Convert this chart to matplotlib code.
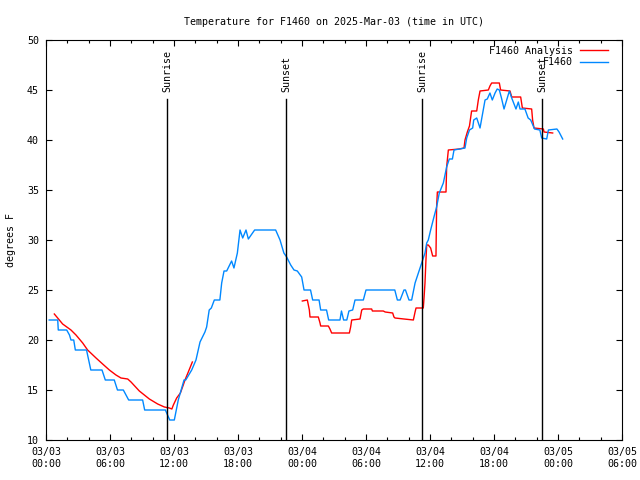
import numpy as np
import pandas as pd
import matplotlib
matplotlib.use("Agg")
import matplotlib.pyplot as plt
import matplotlib.dates as mdates

plt.rcParams['font.family'] = ['DejaVu Sans Mono']

inicio = pd.Timestamp("2025-03-03 00:00")

# observed station temperature (hours after 03/03 00:00 UTC, degrees F)
obs_horas = [0.3, 1.1, 1.15, 1.94, 2.2, 2.34, 2.6, 2.75, 3.8, 4.0, 4.2, 5.25, 5.4, 5.56, 6.4, 6.7,
             7.25, 7.5, 7.75, 9.06, 9.25, 11.19, 11.6, 12.03, 12.4, 12.94, 13.1, 13.66, 14.06, 14.44,
             14.9, 15.06, 15.3, 15.5, 15.78, 16.3, 16.47, 16.69, 16.94, 17.4, 17.62, 17.94, 18.19,
             18.44, 18.75, 18.97, 19.56, 21.53, 21.94, 22.3, 22.56, 22.94, 23.25, 23.56, 23.97,
             24.19, 24.8, 25.0, 25.6, 25.75, 26.3, 26.5, 27.56, 27.7, 27.9, 28.2, 28.4, 28.75,
             28.97, 29.75, 30.0, 32.7, 32.94, 33.2, 33.56, 33.7, 34.03, 34.28, 34.6, 35.0, 35.3,
             35.53, 35.69, 35.84, 36.06, 36.37, 36.62, 36.87, 37.25, 37.56, 37.81, 38.1, 38.25,
             39.28, 39.44, 39.7, 40.0, 40.1, 40.38, 40.69, 40.94, 41.16, 41.37, 41.62, 41.84,
             42.1, 42.3, 42.5, 42.7, 42.94, 43.19, 43.44, 43.66, 44.06, 44.28, 44.44, 44.9, 45.2,
             45.44, 45.75, 45.8, 46.3, 46.47, 46.94, 47.1, 47.9, 48.1, 48.44]
obs_temp = [22, 22, 21, 21, 20.5, 20, 20, 19, 19, 18, 17, 17, 16.5, 16, 16, 15,
            15, 14.5, 14, 14, 13, 13, 12, 12, 14, 16, 16, 17, 18, 19.8,
            20.8, 21.3, 23, 23.2, 24, 24, 25.7, 26.9, 26.9, 27.9, 27.2, 28.7, 31,
            30.2, 31, 30.1, 31, 31, 30, 28.7, 28.3, 27.5, 27, 26.9, 26.3,
            25, 25, 24, 24, 23, 23, 22, 22, 22.9, 22, 22, 22.9, 23,
            24, 24, 25, 25, 24, 24, 25, 25, 24, 24, 25.7, 27, 28,
            28.7, 29.7, 30, 31, 32.3, 33.3, 34.7, 35.7, 37.3, 38.1, 38.1, 39,
            39.2, 40.2, 41, 41.2, 42, 42.2, 41.2, 42.7, 44, 44.1, 44.7, 44,
            44.7, 45.1, 45, 44.2, 43.1, 44, 44.9, 44.2, 43.1, 43.8, 43.1, 43.1, 42.2,
            42, 41.2, 41.1, 41, 40.2, 40.1, 41, 41.1, 40.8, 40.1]

# analysis temperature (two pieces, nan = gap)
ana_horas = [0.78, 1.25, 1.56, 2.34, 2.81, 3.44, 3.9, 4.69, 5.31, 5.94, 6.56, 7.03, 7.66, 7.97,
             8.75, 9.69, 10.47, 11.1, 11.56, 11.8, 11.94, 12.25, 12.6, 12.87, 13.03, 13.34, 13.72,
             18.0,
             24.03, 24.5, 24.69, 24.75, 25.53, 25.69, 25.75, 26.47, 26.62, 26.78, 28.44, 28.56,
             28.66, 29.44, 29.6, 29.75, 30.53, 30.6, 31.62, 31.8, 32.5, 32.62, 32.72, 33.56,
             34.44, 34.6, 34.69, 35.37, 35.44, 35.53, 35.62, 35.69, 35.84, 36.06, 36.25, 36.56,
             36.62, 36.69, 37.5, 37.56, 37.72, 38.75, 39.19, 39.28, 39.5, 39.7, 39.9, 40.38,
             40.53, 40.69, 41.47, 41.62, 41.78, 42.5, 42.62, 43.5, 43.66, 44.5, 44.66, 45.53,
             45.62, 45.75, 46.63, 46.69, 47.5]
ana_temp = [22.6, 22, 21.6, 21, 20.5, 19.7, 19, 18.2, 17.6, 17, 16.5, 16.2, 16.1, 15.8,
            14.9, 14.1, 13.6, 13.3, 13.2, 13.1, 13.5, 14.2, 14.7, 15.5, 16, 16.8, 17.8,
            np.nan,
            23.9, 24, 23, 22.3, 22.3, 21.7, 21.4, 21.4, 21.1, 20.7, 20.7, 21.3,
            22, 22.1, 23, 23.1, 23.1, 22.9, 22.9, 22.8, 22.7, 22.3, 22.2, 22.1,
            22, 22.8, 23.2, 23.2, 24.2, 25.7, 28, 29.5, 29.5, 29.2, 28.4, 28.4,
            33.3, 34.8, 34.8, 37.3, 39, 39.1, 39.2, 40, 40.8, 41.4, 42.9, 42.9,
            44, 44.9, 45, 45.4, 45.7, 45.7, 45, 44.9, 44.3, 44.3, 43.2, 43.1,
            42, 41.2, 41.1, 40.8, 40.7]

sol_horas = [11.34, 22.5, 35.25, 46.5]
sol_nombres = ["Sunrise", "Sunset", "Sunrise", "Sunset"]

def Tiempos(horas):
    return inicio + pd.to_timedelta(horas, unit="h")

fig = plt.figure(figsize=(6.4, 4.8), dpi=100)
ax = fig.add_axes([46/640, 40/480, 576/640, 400/480])

ax.plot(Tiempos(ana_horas), ana_temp, color='#ff0000', lw=1, label='F1460 Analysis')
ax.plot(Tiempos(obs_horas), obs_temp, color='#0088ff', lw=1, label='F1460')

for h, nombre in zip(sol_horas, sol_nombres):
    t = Tiempos([h])[0]
    ax.plot([t, t], [10, 44.1], color='black', lw=1)
    ax.text(t, 44.75, nombre, rotation=90, ha='center', va='bottom', fontsize=7.2)

ax.set_xlim(inicio, inicio + pd.Timedelta(hours=54))
ax.set_ylim(10, 50)
ax.set_yticks(np.arange(10, 51, 5))
ax.xaxis.set_major_locator(mdates.HourLocator(byhour=range(0, 24, 6)))
ax.xaxis.set_minor_locator(mdates.HourLocator(byhour=range(0, 24, 2)))
ax.xaxis.set_major_formatter(mdates.DateFormatter('%m/%d\n%H:%M'))
ax.tick_params(which='both', direction='in', top=True, right=True, labelsize=7.2, width=0.8)
ax.tick_params(which='major', length=4.5, pad=5)
ax.tick_params(which='minor', length=2.5)
for s in ax.spines.values():
    s.set_linewidth(0.8)

ax.set_title('Temperature for F1460 on 2025-Mar-03 (time in UTC)', fontsize=7.2, pad=11)
ax.set_ylabel('degrees F', fontsize=7.2, labelpad=8)
ax.legend(loc='upper right', bbox_to_anchor=(1 - 8/576, 1), frameon=False, markerfirst=False,
          fontsize=7.2, handlelength=2.8, handletextpad=0.7, borderaxespad=0.2, labelspacing=0.15)

fig.savefig("out.png", dpi=100)
